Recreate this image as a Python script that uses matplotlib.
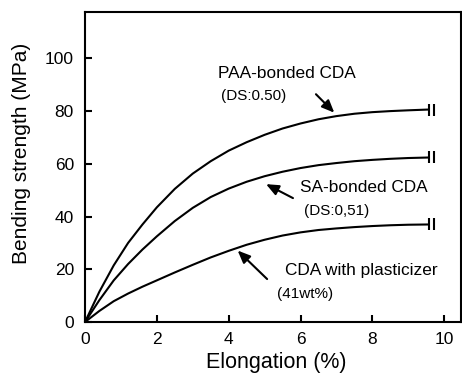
import matplotlib
matplotlib.use("Agg")
import matplotlib.pyplot as plt

plt.rcParams['font.family'] = ['Liberation Sans', 'DejaVu Sans']

# Elongation (%) sample points shared by all three curves
elongation = [0, 0.4, 0.8, 1.2, 1.6, 2.0, 2.5, 3.0, 3.5, 4.0, 4.5, 5.0,
              5.5, 6.0, 6.5, 7.0, 7.5, 8.0, 8.5, 9.0, 9.58]

# Bending strength (MPa)
paa_bonded = [0, 11.5, 21.5, 30.0, 37.0, 43.5, 50.5, 56.3, 61.0, 65.0, 68.2,
              71.0, 73.4, 75.3, 76.9, 78.1, 79.0, 79.6, 80.0, 80.3, 80.6]
sa_bonded = [0, 8.3, 15.8, 22.0, 27.5, 32.5, 38.3, 43.3, 47.4, 50.6, 53.2,
             55.3, 57.0, 58.4, 59.5, 60.3, 61.0, 61.5, 61.9, 62.2, 62.4]
plasticized = [0, 4.2, 7.9, 10.8, 13.4, 15.8, 18.8, 21.7, 24.5, 27.0, 29.3,
               31.2, 32.8, 34.0, 34.9, 35.5, 36.0, 36.4, 36.7, 36.9, 37.0]

x_ticks = [0, 2, 4, 6, 8, 10]
y_ticks = [0, 20, 40, 60, 80, 100]

fig = plt.figure(figsize=(4.62, 3.74), dpi=100)
ax = fig.add_axes([0.184, 0.139, 0.814, 0.829])

for series in (paa_bonded, sa_bonded, plasticized):
    ax.plot(elongation, series, color='black', lw=1.5, solid_capstyle='butt',
            solid_joinstyle='round')
    # double bar marking the break at the end of each curve
    ax.plot([elongation[-1], elongation[-1] + 0.15], [series[-1], series[-1]],
            ls='none', marker='|', ms=8.5, mew=1.5, color='black')

ax.set_xlim(0, 10.47)
ax.set_ylim(0, 117.6)
ax.set_xticks(x_ticks)
ax.set_yticks(y_ticks)
ax.tick_params(direction='in', length=5, width=1.5, labelsize=12.5)
ax.tick_params(axis='y', pad=8)
ax.tick_params(axis='x', pad=7)
for sp in ax.spines.values():
    sp.set_linewidth(1.5)

ax.set_xlabel('Elongation (%)', fontsize=15.5, va='center')
ax.xaxis.set_label_coords(0.508, -0.129)
ax.set_ylabel('Bending strength (MPa)', fontsize=15, va='center')
ax.yaxis.set_label_coords(-0.168, 0.545)

arrow = dict(arrowstyle='-|>,head_length=0.75,head_width=0.32', color='black',
             lw=1.5, shrinkA=0, shrinkB=0)

ax.text(3.70, 94.3, 'PAA-bonded CDA', fontsize=12.4, va='center', ha='left')
ax.text(3.78, 85.7, '(DS:0.50)', fontsize=11, va='center', ha='left')
ax.annotate('', xy=(6.94, 79.4), xytext=(6.43, 86.4), arrowprops=arrow)

ax.text(5.99, 50.9, 'SA-bonded CDA', fontsize=12.4, va='center', ha='left')
ax.text(6.10, 42.0, '(DS:0,51)', fontsize=11, va='center', ha='left')
ax.annotate('', xy=(5.04, 52.3), xytext=(5.79, 47.0), arrowprops=arrow)

ax.text(5.57, 19.5, 'CDA with plasticizer', fontsize=12.4, va='center', ha='left')
ax.text(5.35, 10.7, '(41wt%)', fontsize=11, va='center', ha='left')
ax.annotate('', xy=(4.25, 27.1), xytext=(5.07, 16.3), arrowprops=arrow)

fig.savefig('out.png', dpi=100)
